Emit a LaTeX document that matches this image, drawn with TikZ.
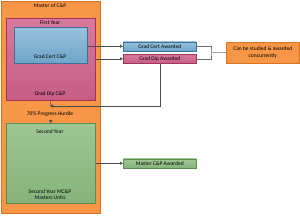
\documentclass[tikz,border=0pt]{standalone}
\usepackage{fontspec}
\setmainfont{Carlito}
\usetikzlibrary{arrows.meta,positioning}
\definecolor{mastorange}{HTML}{F79646}
\definecolor{mastorangedark}{HTML}{D9741F}
\definecolor{yearpink}{HTML}{D0628B}
\definecolor{yearpinkdark}{HTML}{A33359}
\definecolor{certblue}{HTML}{74AED2}
\definecolor{certbluedark}{HTML}{3F6F98}
\definecolor{secgreen}{HTML}{8DBC81}
\definecolor{secgreendark}{HTML}{5C8C50}
\definecolor{linkgray}{HTML}{4A4A4A}
\tikzset{
  box/.style={draw, anchor=north west, inner sep=0pt, line width=0.6pt},
  masterbox/.style={box, fill=mastorange, draw=mastorangedark},
  pinkbox/.style={box, draw=yearpinkdark, top color=yearpink!85!white, bottom color=yearpink!95!black},
  bluebox/.style={box, draw=certbluedark, top color=certblue!75!white, bottom color=certblue!95!black},
  greenbox/.style={box, draw=secgreendark, top color=secgreen!85!white, bottom color=secgreen!95!black},
  awardbox/.style={minimum width=73pt, minimum height=9pt},
  conn/.style={linkgray, line width=0.5pt, -{Triangle[length=3pt, width=3pt]}},
  link/.style={linkgray!80, line width=0.5pt}
}
\begin{document}
\begin{tikzpicture}[x=1pt, y=-1pt, font=\fontsize{5.5}{6.5}\selectfont]
  \useasboundingbox (0,0) rectangle (300,215);
  % left column
  \node[masterbox, minimum width=99pt, minimum height=212pt] (master) at (1,1) {};
  \node[pinkbox, minimum width=89pt, minimum height=82pt] (firstyear) at (6,18) {};
  \node[bluebox, minimum width=73pt, minimum height=36pt] (gradcert) at (14,27) {};
  \node[greenbox, minimum width=89pt, minimum height=80pt] (secondyear) at (6,123) {};
  \node (mastertxt) at (50,5.5) {Master of C\&P};
  \node (firsttxt) at (50,23) {First Year};
  \node (certtxt) at (50,57) {Grad Cert C\&P};
  \node (diptxt) at (50,94) {Grad Dip C\&P};
  \node (hurdle) at (50,114) {70\% Progress Hurdle};
  \node (secondtxt) at (50,132) {Second Year};
  \node[align=center] (unitstxt) at (50,194.5) {Second Year MC\&P\\Masters Units};
  % right column
  \node[bluebox, awardbox] (certaw) at (123,41.5) {Grad Cert Awarded};
  \node[pinkbox, awardbox] (dipaw) at (123,54) {Grad Dip Awarded};
  \node[masterbox, minimum width=73pt, minimum height=21.5pt, align=center] (concur) at (226,41.5) {Can be studied \& awarded\\concurrently};
  \node[greenbox, awardbox] (masteraw) at (123,158.5) {Master C\&P Awarded};
  % connectors
  \coordinate (jn) at (211,52.2);
  \coordinate (merge) at (50,106);
  \draw[conn] (gradcert.east |- certaw) -- (certaw.west);
  \draw[conn] (firstyear.east |- dipaw) -- (dipaw.west);
  \draw[link] (certaw.east) -| (jn) |- (dipaw.east);
  \draw[link] (jn) -- (concur.west);
  \draw[linkgray, line width=0.5pt] (firstyear.south) -- (merge);
  \draw[conn] (dipaw.south) |- (merge);
  \draw[conn] (hurdle) -- (secondyear.north);
  \draw[conn] (secondyear.east |- masteraw) -- (masteraw.west);
\end{tikzpicture}
\end{document}
